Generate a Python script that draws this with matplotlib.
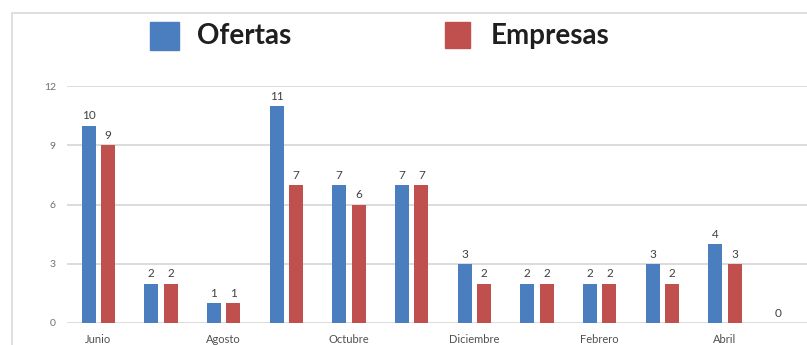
import numpy as np
import matplotlib.pyplot as plt
from matplotlib.patches import Rectangle

# datos
meses = ["Junio", "Julio", "Agosto", "Septiembre", "Octubre", "Noviembre",
         "Diciembre", "Enero", "Febrero", "Marzo", "Abril", "Mayo"]
ofertas = [10, 2, 1, 11, 7, 7, 3, 2, 2, 3, 4, 0]
empresas = [9, 2, 1, 7, 6, 7, 2, 2, 2, 2, 3, np.nan]
yticks = [0, 3, 6, 9, 12]

azul = "#4a7ebf"
rojo = "#c0504d"

plt.rcParams['font.family'] = ['Lato', 'DejaVu Sans']

fig = plt.figure(figsize=(8.07, 3.45), dpi=100)
# marco del grafico
fig.patches.append(Rectangle((12 / 807, -0.1), 1.0, 1 - 13 / 345 + 0.1,
                             transform=fig.transFigure, fill=False,
                             edgecolor="#d9d9d9", linewidth=1.2))

ax = fig.add_axes([67 / 807, 22 / 345, (819 - 67) / 807, (323 - 86) / 345])
x = np.arange(len(meses))
w = 0.22
b1 = ax.bar(x - 0.155, ofertas, w, color=azul, zorder=3)
b2 = ax.bar(x + 0.155, empresas, w, color=rojo, zorder=3)

for rects, vals in [(b1, ofertas), (b2, empresas)]:
    for r, v in zip(rects, vals):
        if np.isnan(v):
            continue
        ax.annotate("%d" % v, (r.get_x() + r.get_width() / 2, v),
                    xytext=(0, 3), textcoords="offset points",
                    ha="center", va="bottom", fontsize=8.5, color="#404040")

ax.set_xlim(-0.5, len(meses) - 0.5)
ax.set_ylim(0, 12)
ax.set_yticks(yticks)
ax.set_yticklabels([str(t) for t in yticks], fontsize=7.5, color="#707070")
ax.set_xticks(x[::2])
ax.set_xticklabels(meses[::2], fontsize=8, color="#505050")
ax.tick_params(length=0, pad=8)
ax.tick_params(axis="x", pad=8)
ax.grid(axis="y", color="#d9d9d9", linewidth=1.3, zorder=0)
for s in ax.spines.values():
    s.set_visible(False)

# leyenda
fig.patches.append(Rectangle((150 / 807, 1 - 50 / 345), 29 / 807, 28 / 345,
                             transform=fig.transFigure, color=azul))
fig.text(197 / 807, 1 - 36 / 345, "Ofertas", fontsize=20, color="#1f1f1f",
         fontweight="bold", va="center", ha="left")
fig.patches.append(Rectangle((445 / 807, 1 - 48 / 345), 25 / 807, 26 / 345,
                             transform=fig.transFigure, color=rojo))
fig.text(491 / 807, 1 - 36 / 345, "Empresas", fontsize=20, color="#1f1f1f",
         fontweight="bold", va="center", ha="left")

fig.savefig("out.png", dpi=100)
